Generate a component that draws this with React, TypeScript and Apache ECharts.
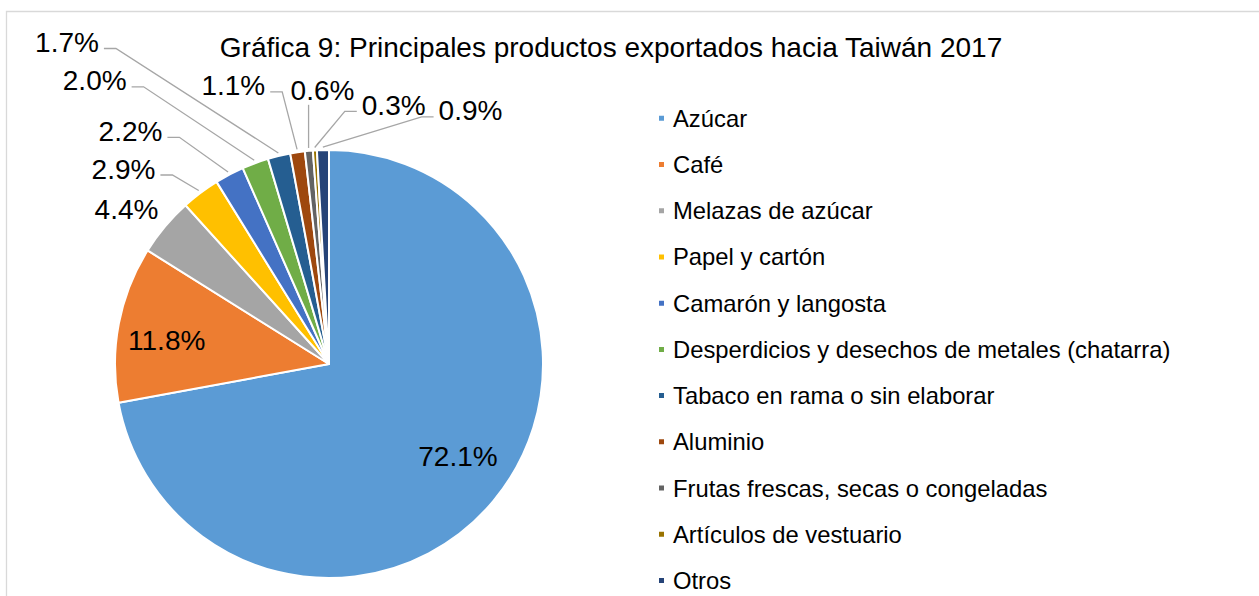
import React, { useEffect, useRef } from 'react';
import * as echarts from 'echarts';

const TITLE = 'Gráfica 9: Principales productos exportados hacia Taiwán 2017';
const CATEGORIES = [
  'Azúcar',
  'Café',
  'Melazas de azúcar',
  'Papel y cartón',
  'Camarón y langosta',
  'Desperdicios y desechos de metales (chatarra)',
  'Tabaco en rama o sin elaborar',
  'Aluminio',
  'Frutas frescas, secas o congeladas',
  'Artículos de vestuario',
  'Otros',
];
const SHARES = [72.1, 11.8, 4.4, 2.9, 2.2, 2.0, 1.7, 1.1, 0.6, 0.3, 0.9];
const COLORS = [
  '#5B9BD5', '#ED7D31', '#A5A5A5', '#FFC000', '#4472C4', '#70AD47',
  '#255E91', '#9E480E', '#636363', '#997300', '#264478',
];
// Manual label placement (label centre in px) and side where the leader line attaches
const LABEL_X = [458, 166.7, 126.5, 123.5, 130.5, 94.7, 67, 233.3, 322.5, 393.7, 470.5];
const LABEL_Y = [456.5, 340, 209, 169, 131.3, 80.8, 42.5, 85.8, 90.8, 105.3, 110.8];
const LEADER = ['none', 'none', 'none', 'right', 'right', 'right', 'right', 'right', 'bottom', 'left', 'left'];

const CX = 329;
const CY = 364;
const R = 214;
const FONT = 'Liberation Sans, Arial, sans-serif';

export default function App() {
  const ref = useRef<HTMLDivElement>(null);
  useEffect(() => {
    if (!ref.current) return;
    const chart = echarts.init(ref.current, undefined, { renderer: 'svg' });
    const data = CATEGORIES.map((name, i) => ({
      name,
      value: SHARES[i],
      itemStyle: { color: COLORS[i] },
      label: { position: i < 2 ? 'inside' : 'outside' },
      labelLine: { show: LEADER[i] !== 'none' },
    }));
    chart.setOption({
      animation: false,
      backgroundColor: '#ffffff',
      graphic: [
        {
          type: 'rect',
          shape: { x: 6.5, y: 11.5, width: 1400, height: 800 },
          style: { fill: 'none', stroke: '#D9D9D9', lineWidth: 1.3 },
          silent: true,
        },
        {
          type: 'text',
          x: 611,
          y: 47,
          style: {
            text: TITLE,
            align: 'center',
            verticalAlign: 'middle',
            fontFamily: FONT,
            fontSize: 28,
            fill: '#000000',
          },
        },
      ],
      legend: {
        orient: 'vertical',
        left: 657,
        top: 106.3,
        padding: 0,
        itemWidth: 7,
        itemHeight: 7,
        itemGap: 22.22,
        icon: 'rect',
        selectedMode: false,
        textStyle: {
          fontFamily: FONT,
          fontSize: 23.8,
          lineHeight: 24,
          color: '#000000',
          padding: [0, 0, 0, 3],
        },
        data: CATEGORIES,
      },
      series: [
        {
          type: 'pie',
          center: [CX, CY],
          radius: R,
          startAngle: 90,
          clockwise: true,
          avoidLabelOverlap: false,
          itemStyle: { borderColor: '#ffffff', borderWidth: 2 },
          label: {
            show: true,
            formatter: (p: any) => `${Number(p.value).toFixed(1)}%`,
            fontFamily: FONT,
            fontSize: 28,
            color: '#000000',
          },
          labelLine: {
            show: true,
            length: 10,
            length2: 10,
            lineStyle: { color: '#A6A6A6', width: 1.3 },
          },
          labelLayout: (params: any) => {
            const i = params.dataIndex;
            const x = LABEL_X[i];
            const y = LABEL_Y[i];
            const out: any = { x, y, align: 'center', verticalAlign: 'middle' };
            const side = LEADER[i];
            if (side !== 'none') {
              const w = params.labelRect ? params.labelRect.width : 62;
              let p0: number[];
              if (params.labelLinePoints && params.labelLinePoints[0]) {
                const [px, py] = params.labelLinePoints[0];
                const dx = px - CX;
                const dy = py - CY;
                const d = Math.sqrt(dx * dx + dy * dy) || 1;
                p0 = [CX + (dx / d) * (R + 3), CY + (dy / d) * (R + 3)];
              } else {
                p0 = [CX, CY - R];
              }
              const ly = y + 6;
              if (side === 'right') {
                const rx = x + w / 2;
                out.labelLinePoints = [p0, [rx + 17, ly], [rx + 5, ly]];
              } else if (side === 'left') {
                const lx = x - w / 2;
                out.labelLinePoints = [p0, [lx - 17, ly], [lx - 5, ly]];
              } else {
                out.labelLinePoints = [p0, [p0[0], (p0[1] + y + 14) / 2], [p0[0], y + 14]];
              }
            }
            return out;
          },
          data,
        },
      ],
    });
    return () => chart.dispose();
  }, []);
  return (
    <div
      ref={ref}
      style={{ position: 'fixed', left: 0, top: 0, width: 1259, height: 596, background: '#fff' }}
    />
  );
}
